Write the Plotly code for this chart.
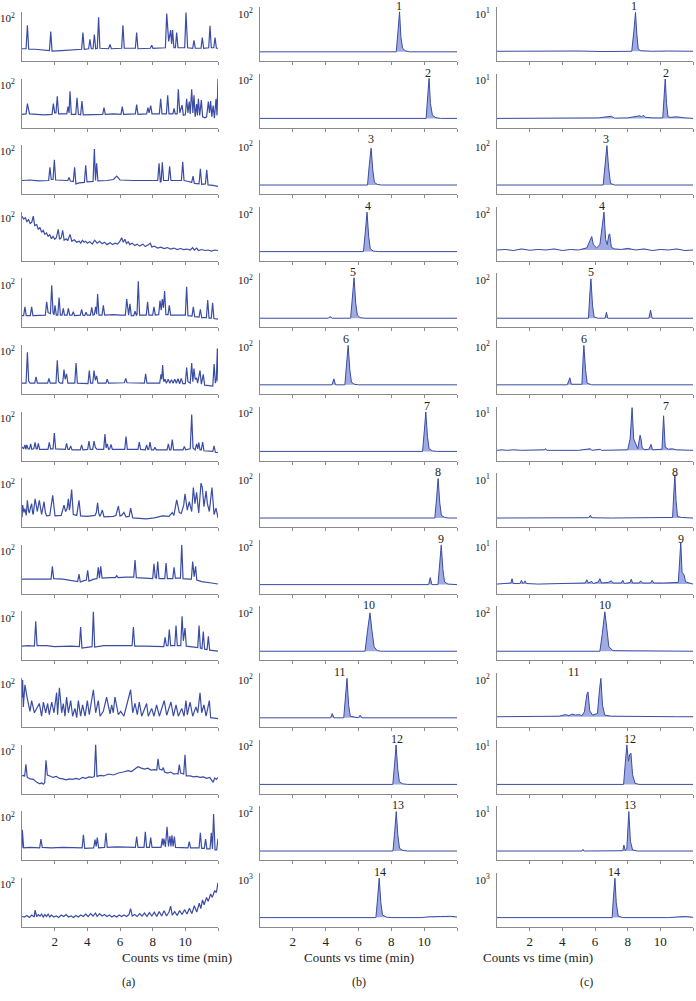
import plotly.graph_objects as go
from plotly.subplots import make_subplots

# chromatogram points (time in min, signal in % of panel height)
# column (a)
a01 = [(0,25),(0.25,25),(0.33,73),(0.41,24),(0.8,24),(1.2,22),(1.68,21),(1.76,60),(1.84,20),(2.4,21),(3.0,22),(3.65,24),(3.73,58),(3.81,24),(4.08,25),(4.16,44),(4.24,25),(4.35,25),(4.43,54),(4.51,25),(4.61,26),(4.69,89),(4.77,26),(5.3,25),(5.39,34),(5.47,25),(6.1,26),(6.18,73),(6.26,26),(6.94,26),(7.02,58),(7.1,25),(7.86,26),(7.94,32),(8.02,26),(8.5,26),(8.78,27),(8.86,97),(8.98,40),(9.1,63),(9.16,35),(9.22,63),(9.3,27),(9.39,27),(9.47,58),(9.55,27),(9.96,27),(10.04,99),(10.14,27),(10.45,26),(10.53,42),(10.61,26),(10.96,26),(11.04,48),(11.12,26),(11.43,27),(11.51,72),(11.59,27),(11.74,27),(11.82,48),(11.9,26),(12.0,26)]
a02 = [(0,27),(0.25,28),(0.33,49),(0.4,35),(0.46,28),(0.9,27),(1.4,26),(1.84,27),(1.92,49),(2.0,30),(2.08,30),(2.16,64),(2.24,28),(2.74,28),(2.82,43),(2.88,30),(2.94,74),(3.02,27),(3.29,27),(3.37,61),(3.45,27),(3.59,26),(3.67,54),(3.75,26),(4.3,27),(4.94,27),(5.02,41),(5.1,27),(5.6,28),(6.06,27),(6.14,43),(6.22,27),(6.94,28),(7.02,47),(7.1,27),(7.63,28),(7.71,41),(7.78,30),(7.88,45),(7.96,28),(8.41,28),(8.49,59),(8.57,28),(8.84,28),(8.92,66),(9.0,28),(9.24,28),(9.31,39),(9.38,28),(9.5,28),(9.57,78),(9.66,30),(9.8,46),(9.88,25),(10.0,26),(10.08,59),(10.16,30),(10.24,53),(10.3,28),(10.39,78),(10.46,30),(10.53,66),(10.6,22),(10.69,48),(10.74,25),(10.8,59),(10.88,25),(10.98,56),(11.06,22),(11.2,20),(11.3,22),(11.41,53),(11.48,30),(11.55,54),(11.62,22),(11.7,45),(11.78,19),(11.88,59),(11.94,25),(12.0,100)]
a03 = [(0,28),(0.5,29),(1.0,27),(1.63,28),(1.71,55),(1.79,30),(1.9,30),(1.98,70),(2.06,29),(2.8,28),(2.88,34),(2.96,27),(3.14,26),(3.22,55),(3.3,21),(3.5,23),(3.82,24),(3.9,59),(3.98,25),(4.35,26),(4.43,92),(4.5,28),(4.57,63),(4.65,27),(5.2,28),(5.6,30),(5.8,37),(6.0,29),(6.8,28),(7.5,28),(8.0,27),(8.31,28),(8.39,63),(8.47,25),(8.52,26),(8.59,65),(8.67,28),(8.96,28),(9.04,57),(9.12,28),(9.5,28),(9.76,28),(9.84,66),(9.92,28),(10.2,26),(10.39,24),(10.47,37),(10.55,22),(10.84,21),(10.92,52),(11.0,20),(11.23,21),(11.31,50),(11.39,19),(11.7,18),(12.0,16)]
a04 = [(0,91),(0.1,85),(0.2,88),(0.3,80),(0.4,84),(0.5,76),(0.6,79),(0.69,91),(0.78,72),(0.9,74),(1.0,64),(1.1,68),(1.2,58),(1.3,62),(1.4,54),(1.5,57),(1.6,50),(1.7,53),(1.8,45),(1.9,50),(2.0,44),(2.1,47),(2.22,64),(2.3,44),(2.4,47),(2.49,62),(2.58,42),(2.7,45),(2.8,41),(2.94,54),(3.05,40),(3.2,43),(3.35,38),(3.5,40),(3.6,36),(3.7,42),(3.8,38),(3.9,40),(4.0,36),(4.15,39),(4.3,34),(4.45,42),(4.6,36),(4.75,40),(4.9,35),(5.05,38),(5.2,33),(5.4,37),(5.55,33),(5.7,36),(5.85,34),(6.0,40),(6.1,47),(6.2,38),(6.3,44),(6.4,35),(6.5,39),(6.6,33),(6.75,36),(6.9,31),(7.05,34),(7.2,30),(7.4,34),(7.55,29),(7.7,32),(7.85,36),(7.95,28),(8.1,30),(8.3,26),(8.5,28),(8.7,25),(8.9,27),(9.1,24),(9.3,26),(9.5,23),(9.7,25),(9.9,23),(10.1,24),(10.3,22),(10.45,27),(10.55,22),(10.7,26),(10.8,21),(11.0,23),(11.2,21),(11.4,22),(11.6,20),(11.8,22),(12.0,21)]
a05 = [(0,24),(0.1,24),(0.18,42),(0.26,24),(0.51,24),(0.59,42),(0.67,24),(1.0,24),(1.43,25),(1.51,52),(1.6,30),(1.74,28),(1.82,86),(1.9,30),(1.96,26),(2.02,45),(2.1,25),(2.19,25),(2.27,61),(2.35,25),(2.45,25),(2.53,39),(2.6,25),(2.76,25),(2.84,39),(2.92,25),(3.06,25),(3.14,32),(3.22,24),(3.57,25),(3.65,37),(3.73,25),(3.84,24),(3.92,31),(4.0,25),(4.19,25),(4.27,41),(4.35,25),(4.43,26),(4.51,42),(4.57,27),(4.63,68),(4.71,25),(4.9,25),(4.98,45),(5.06,25),(5.6,26),(6.0,25),(6.33,25),(6.41,58),(6.49,25),(6.53,25),(6.61,48),(6.69,24),(6.84,24),(6.92,33),(7.0,25),(7.04,26),(7.12,94),(7.2,25),(7.61,25),(7.69,52),(7.77,25),(8.0,25),(8.08,42),(8.16,25),(8.37,26),(8.45,55),(8.52,35),(8.59,58),(8.66,40),(8.73,74),(8.81,26),(8.94,26),(9.02,45),(9.1,25),(9.5,25),(10.0,25),(10.08,83),(10.16,24),(10.41,23),(10.49,42),(10.57,22),(10.84,21),(10.92,37),(11.0,20),(11.29,20),(11.37,56),(11.45,19),(11.59,19),(11.67,50),(11.75,18),(12.0,17)]
a06 = [(0,22),(0.25,22),(0.33,85),(0.41,26),(0.5,22),(0.78,22),(0.86,35),(0.94,22),(1.57,22),(1.65,32),(1.73,22),(2.08,22),(2.16,69),(2.24,25),(2.35,22),(2.49,22),(2.57,50),(2.64,30),(2.73,41),(2.81,22),(3.23,22),(3.31,63),(3.39,22),(4.04,21),(4.12,48),(4.2,22),(4.33,22),(4.41,48),(4.49,28),(4.57,37),(4.65,22),(5.14,22),(5.22,30),(5.3,22),(6.27,23),(6.35,32),(6.43,23),(7.49,22),(7.57,41),(7.65,22),(8.43,22),(8.51,40),(8.56,30),(8.61,59),(8.68,25),(8.76,30),(8.84,22),(8.95,30),(9.05,22),(9.15,29),(9.25,22),(9.35,30),(9.45,22),(9.55,31),(9.65,21),(9.75,32),(9.85,21),(10.0,21),(10.08,54),(10.16,25),(10.3,22),(10.39,63),(10.46,25),(10.53,52),(10.6,30),(10.69,33),(10.75,22),(10.9,48),(10.98,20),(11.1,40),(11.18,18),(11.5,17),(11.68,16),(11.76,61),(11.84,22),(11.9,30),(11.96,93),(12.0,26)]
a07 = [(0,28),(0.1,24),(0.18,32),(0.24,23),(0.29,32),(0.38,24),(0.46,24),(0.53,34),(0.6,23),(0.72,24),(0.8,37),(0.87,24),(0.93,24),(1.0,35),(1.08,23),(1.59,23),(1.67,37),(1.75,24),(1.9,24),(1.98,56),(2.06,24),(2.65,23),(2.73,35),(2.81,23),(2.9,23),(2.98,30),(3.06,22),(3.57,22),(3.65,32),(3.73,22),(4.02,23),(4.1,40),(4.18,23),(4.33,23),(4.41,40),(4.49,27),(4.6,23),(5.0,23),(5.08,54),(5.15,26),(5.22,34),(5.3,23),(5.37,24),(5.45,33),(5.53,23),(6.29,23),(6.37,49),(6.45,23),(7.1,23),(7.18,38),(7.26,23),(7.55,22),(7.63,32),(7.7,23),(7.76,23),(7.84,38),(7.92,22),(8.06,22),(8.14,27),(8.22,22),(8.88,22),(8.96,34),(9.04,22),(9.12,22),(9.2,43),(9.28,22),(9.86,22),(9.94,29),(10.02,22),(10.3,24),(10.39,94),(10.47,26),(10.6,22),(10.69,34),(10.76,24),(10.82,37),(10.9,22),(10.98,22),(11.06,38),(11.14,20),(11.68,19),(11.76,30),(11.84,17),(12.0,16)]
a08 = [(0,20),(0.04,45),(0.12,30),(0.18,38),(0.26,24),(0.33,55),(0.4,34),(0.45,29),(0.52,40),(0.59,48),(0.65,30),(0.69,26),(0.8,58),(0.88,38),(0.94,32),(1.06,55),(1.14,34),(1.2,26),(1.35,52),(1.43,30),(1.51,23),(1.7,24),(1.88,65),(2.02,23),(2.4,24),(2.57,45),(2.67,32),(2.76,38),(2.84,58),(2.9,35),(2.94,42),(3.04,77),(3.14,26),(3.35,24),(3.49,55),(3.59,23),(4.0,22),(4.47,24),(4.55,30),(4.63,50),(4.7,28),(4.78,22),(4.92,35),(5.02,21),(5.59,22),(5.75,24),(5.9,43),(6.0,23),(6.1,24),(6.24,30),(6.37,21),(6.56,22),(6.65,39),(6.78,19),(7.6,17),(8.1,19),(8.6,23),(9.0,22),(9.2,30),(9.3,24),(9.47,56),(9.63,30),(9.75,28),(9.9,45),(9.98,68),(10.12,35),(10.24,52),(10.39,32),(10.49,81),(10.59,48),(10.69,71),(10.82,29),(10.96,90),(11.04,81),(11.14,42),(11.27,74),(11.35,48),(11.47,32),(11.63,81),(11.76,26),(11.88,39),(12.0,19)]
a09 = [(0,30),(0.5,30),(1.0,29),(1.5,30),(1.78,30),(1.86,56),(1.94,31),(2.5,30),(3.0,28),(3.41,25),(3.49,40),(3.57,24),(3.8,27),(3.94,28),(4.02,48),(4.1,26),(4.4,30),(4.59,31),(4.67,54),(4.74,32),(4.82,56),(4.9,32),(5.4,33),(5.72,33),(5.8,37),(5.88,33),(6.4,34),(6.84,34),(6.92,69),(7.0,33),(7.5,32),(8.0,31),(8.08,61),(8.16,33),(8.23,32),(8.31,66),(8.39,31),(8.74,31),(8.82,63),(8.9,31),(9.23,31),(9.31,54),(9.39,32),(9.7,32),(9.78,100),(9.86,31),(10.2,30),(10.37,30),(10.45,66),(10.54,35),(10.63,56),(10.7,28),(11.0,25),(11.3,24),(11.6,22),(12.0,20)]
a10 = [(0,29),(0.4,30),(0.76,29),(0.84,80),(0.92,30),(1.5,30),(2.0,28),(2.6,29),(3.0,29),(3.51,28),(3.59,68),(3.67,25),(4.0,27),(4.29,28),(4.37,100),(4.45,27),(5.0,30),(5.5,30),(6.0,29),(6.74,30),(6.82,68),(6.9,29),(7.5,29),(8.0,28),(8.68,28),(8.76,47),(8.84,30),(8.94,30),(9.02,63),(9.1,30),(9.35,30),(9.43,71),(9.51,30),(9.72,30),(9.8,90),(9.88,40),(9.98,66),(10.06,29),(10.5,27),(10.76,26),(10.84,71),(10.92,25),(11.02,24),(11.1,59),(11.18,23),(11.33,22),(11.41,49),(11.49,21),(12.0,19)]
a11 = [(0.0,60),(0.04,96),(0.08,41),(0.18,86),(0.33,57),(0.49,32),(0.59,54),(0.76,29),(1.06,48),(1.2,22),(1.31,51),(1.45,29),(1.57,48),(1.67,25),(1.82,51),(1.96,29),(2.12,70),(2.18,25),(2.29,80),(2.43,29),(2.53,48),(2.63,22),(2.73,61),(2.84,29),(2.98,54),(3.1,22),(3.24,38),(3.35,19),(3.45,54),(3.59,22),(3.71,45),(3.86,22),(4.0,54),(4.12,25),(4.37,76),(4.51,29),(4.67,54),(4.78,22),(4.98,32),(5.18,61),(5.39,27),(5.49,45),(5.59,29),(5.69,61),(5.9,25),(6.04,32),(6.24,22),(6.65,76),(6.78,29),(6.92,48),(7.06,25),(7.18,51),(7.33,22),(7.63,48),(7.73,22),(7.94,38),(8.08,22),(8.24,45),(8.41,22),(8.71,54),(8.86,24),(9.12,51),(9.27,22),(9.43,45),(9.57,22),(9.78,38),(9.92,22),(10.04,54),(10.12,25),(10.29,51),(10.45,22),(10.65,41),(10.76,29),(10.9,70),(11.0,29),(11.14,45),(11.27,22),(11.47,54),(11.55,19),(12.0,17)]
a12 = [(0,36),(0.1,37),(0.16,35),(0.24,60),(0.32,33),(0.5,30),(0.7,29),(0.9,23),(1.1,20),(1.2,22),(1.3,19),(1.39,22),(1.47,68),(1.55,38),(1.7,36),(1.9,33),(2.1,35),(2.3,31),(2.5,30),(2.7,28),(2.9,30),(3.1,29),(3.3,31),(3.5,29),(3.7,33),(3.9,31),(4.1,34),(4.3,33),(4.43,35),(4.51,100),(4.59,35),(4.8,37),(5.0,36),(5.3,40),(5.6,38),(5.9,42),(6.2,44),(6.5,47),(6.7,45),(6.9,51),(7.1,55),(7.3,52),(7.5,50),(7.7,52),(7.9,48),(8.1,49),(8.25,48),(8.33,71),(8.41,50),(8.57,48),(8.65,53),(8.73,44),(8.9,42),(9.1,44),(9.3,40),(9.5,41),(9.55,40),(9.63,59),(9.71,42),(9.9,40),(9.98,79),(10.06,36),(10.3,36),(10.5,34),(10.7,35),(10.9,33),(11.1,34),(11.3,31),(11.5,33),(11.7,23),(11.8,32),(11.9,29),(12.0,33)]
a13 = [(0,25),(0.02,62),(0.1,25),(0.5,26),(1.08,25),(1.16,43),(1.24,26),(1.8,25),(2.5,26),(3.0,25),(3.68,25),(3.76,52),(3.84,24),(4.39,25),(4.47,42),(4.54,28),(4.61,46),(4.69,25),(5.06,26),(5.14,56),(5.22,26),(5.8,27),(6.4,26),(6.94,26),(7.02,48),(7.1,26),(7.47,26),(7.55,58),(7.63,26),(7.8,26),(7.88,46),(7.96,26),(8.51,26),(8.59,44),(8.64,30),(8.69,44),(8.78,27),(8.88,68),(8.97,28),(9.06,49),(9.12,28),(9.18,51),(9.25,28),(9.33,48),(9.4,26),(10.0,26),(10.16,25),(10.24,38),(10.32,25),(10.84,25),(10.92,56),(11.0,24),(11.16,24),(11.24,43),(11.32,23),(11.51,23),(11.59,56),(11.66,23),(11.73,94),(11.82,21),(11.92,21),(12.0,44)]
a14 = [(0,21),(0.15,20),(0.3,23),(0.45,19),(0.6,24),(0.75,20),(0.8,34),(0.9,21),(1.0,25),(1.1,22),(1.2,26),(1.3,20),(1.4,25),(1.5,21),(1.6,26),(1.7,20),(1.8,24),(1.95,20),(2.1,22),(2.25,19),(2.4,24),(2.55,21),(2.7,25),(2.85,20),(3.0,22),(3.15,19),(3.3,23),(3.45,20),(3.6,24),(3.75,21),(3.9,26),(4.05,21),(4.2,27),(4.35,22),(4.5,28),(4.6,21),(4.75,27),(4.9,22),(5.05,25),(5.2,21),(5.35,24),(5.5,20),(5.65,23),(5.8,20),(5.95,24),(6.1,21),(6.25,24),(6.4,21),(6.55,25),(6.65,37),(6.75,22),(6.9,25),(7.05,21),(7.2,27),(7.35,22),(7.5,28),(7.65,21),(7.8,29),(7.95,22),(8.1,30),(8.25,21),(8.4,31),(8.55,22),(8.7,33),(8.85,22),(9.0,30),(9.1,42),(9.2,24),(9.35,31),(9.5,23),(9.65,33),(9.8,25),(9.95,35),(10.1,26),(10.25,38),(10.4,27),(10.55,43),(10.7,30),(10.85,48),(10.95,37),(11.05,55),(11.15,45),(11.3,60),(11.4,52),(11.55,67),(11.65,60),(11.8,74),(11.9,70),(12.0,90)]

# column (b)
b01 = [(0,17),(8.3,17),(8.42,60),(8.5,91),(8.58,45),(8.68,24),(8.85,19),(9.1,17),(12,17)]
b02 = [(0,17),(10.12,17),(10.22,60),(10.3,91),(10.38,45),(10.5,23),(10.7,18.5),(11,17),(12,17)]
b03 = [(0,17),(6.55,17),(6.66,55),(6.77,85),(6.87,45),(6.97,22),(7.15,18),(7.4,17),(12,17)]
b04 = [(0,17),(6.3,17),(6.42,55),(6.52,90),(6.62,45),(6.72,22),(6.9,18),(7.2,17),(12,17)]
b05 = [(0,17),(4.15,17),(4.27,20),(4.4,17),(5.52,17),(5.64,55),(5.73,92),(5.83,45),(5.93,23),(6.1,18),(6.4,17),(12,17)]
b06 = [(0,17),(4.38,17),(4.5,28),(4.6,17),(5.17,17),(5.28,55),(5.37,90),(5.47,45),(5.57,22),(5.75,18),(6.0,17),(12,17)]
b07 = [(0,17),(9.9,17),(10.01,55),(10.1,90),(10.2,45),(10.3,22),(10.5,18),(10.8,17),(12,17)]
b08 = [(0,17),(10.65,17),(10.76,55),(10.85,90),(10.95,45),(11.05,22),(11.25,18),(11.5,17),(12,17)]
b09 = [(0,17),(10.27,17),(10.37,30),(10.47,17),(10.84,17),(10.95,55),(11.04,90),(11.14,45),(11.24,22),(11.45,18),(12,17)]
b10 = [(0,17),(6.4,17),(6.55,55),(6.7,88),(6.82,55),(6.95,25),(7.15,18),(7.4,17),(12,17)]
b11 = [(0,17),(4.3,17),(4.4,25),(4.5,17),(5.1,17),(5.21,55),(5.3,90),(5.4,40),(5.5,20),(6.0,17),(6.1,22),(6.2,17),(12,17)]
b12 = [(0,17),(8.09,17),(8.2,55),(8.29,90),(8.39,45),(8.49,22),(8.7,18),(9.0,17),(12,17)]
b13 = [(0,17),(8.1,17),(8.21,55),(8.3,90),(8.4,45),(8.5,22),(8.7,18),(9.0,17),(12,17)]
b14 = [(0,17),(7.06,17),(7.17,55),(7.26,90),(7.36,45),(7.46,22),(7.7,18),(8.0,17),(9.8,17),(10.3,18.5),(11.0,19),(11.6,19.5),(12,18)]

# column (c)
c01 = [(0,18),(1.5,18.5),(2.5,17.5),(3.3,19),(3.6,18),(5,18.5),(6.5,17.5),(8.25,18),(8.38,55),(8.48,90),(8.56,50),(8.65,22),(8.8,19),(9.5,18),(10.5,18.5),(11.5,17.5),(12,18)]
c02 = [(0,17),(2,17.5),(4,18),(5,17),(6.2,18),(7.0,21),(7.2,17.5),(8.0,18),(8.75,22),(8.85,20),(8.95,23),(9.1,19),(9.5,18),(10.15,18),(10.22,60),(10.3,90),(10.38,45),(10.47,20),(10.6,19),(11,20),(11.5,18),(12,17)]
c03 = [(0,17),(6.5,17),(6.62,55),(6.73,90),(6.83,50),(6.95,20),(7.2,17),(12,17)]
c04 = [(0,20),(0.5,21),(1,19),(1.5,22),(2,19.5),(2.5,21),(3,20),(3.5,22),(4,19),(4.5,21),(5.0,20),(5.5,24),(5.7,38),(5.8,45),(5.9,30),(6.1,24),(6.3,30),(6.45,70),(6.55,90),(6.65,40),(6.75,30),(6.85,48),(6.9,50),(7.0,25),(7.2,22),(7.6,21),(8,23),(8.5,20),(9,22),(9.5,19),(10,21),(10.5,20),(11,22),(11.5,19),(12,20)]
c05 = [(0,17),(4,17),(5.6,17),(5.68,60),(5.75,90),(5.85,40),(5.95,19),(6.2,17),(6.62,17),(6.7,28),(6.78,17),(9.3,17),(9.4,32),(9.5,17),(12,17)]
c06 = [(0,17),(4.3,17),(4.4,25),(4.46,30),(4.55,18),(5.2,18),(5.27,65),(5.32,90),(5.42,45),(5.52,20),(5.8,17),(12,17)]
c07 = [(0,19),(0.3,20),(0.6,19),(1,20),(1.5,19),(2,19.5),(2.9,20),(2.98,22),(3.05,19),(5,19),(5.65,21),(5.72,22),(5.8,19),(6.25,21),(6.32,21),(6.4,19),(8.0,20),(8.15,40),(8.27,98),(8.37,40),(8.5,30),(8.62,22),(8.76,47),(8.82,40),(8.88,25),(9.0,20),(9.3,21),(9.43,30),(9.52,20),(9.8,20),(10.1,21),(10.2,83),(10.3,25),(10.5,21),(10.7,22),(11,20),(11.5,19),(12,19)]
c08 = [(0,17),(2,17.5),(4,17),(5.6,17.5),(5.72,22),(5.8,17.5),(7,17),(9,17.5),(10.75,18),(10.82,60),(10.89,97),(10.96,50),(11.05,20),(11.3,18),(12,17)]
c09 = [(0,18),(0.5,18.5),(0.85,20),(0.92,28),(1.0,19),(1.4,19),(1.5,25),(1.58,19),(1.65,20),(1.72,24),(1.8,19),(2.5,18),(3.5,19),(4.5,19),(5.4,20),(5.5,26),(5.6,20),(5.8,23),(5.9,19),(6.2,22),(6.3,28),(6.4,20),(6.8,21),(7.0,24),(7.1,20),(7.6,20),(7.7,25),(7.8,19),(8.15,21),(8.22,27),(8.3,20),(8.7,20),(8.8,24),(8.9,20),(9.4,20),(9.5,25),(9.6,20),(10.2,20),(10.6,21),(11.1,21),(11.18,60),(11.25,95),(11.33,40),(11.45,35),(11.55,22),(11.8,19),(12,18)]
c10 = [(0,17),(6.3,17),(6.45,50),(6.6,90),(6.72,60),(6.85,25),(7.1,18),(12,17)]
c11 = [(0,19),(1,19.5),(2,19),(3,19.5),(3.8,20),(4.2,23),(4.4,21),(4.6,24),(4.8,22),(5.0,23),(5.2,21),(5.35,28),(5.5,60),(5.57,65),(5.68,30),(5.85,22),(6.15,25),(6.28,70),(6.36,90),(6.46,40),(6.6,22),(7,20),(8,19.5),(9,19),(10,19.5),(11,19),(12,19)]
c12 = [(0,17),(7.75,17),(7.85,55),(7.95,90),(8.05,60),(8.12,72),(8.2,75),(8.3,35),(8.45,19),(8.7,17),(12,17)]
c13 = [(0,17),(5.2,17),(5.26,20),(5.32,17),(7.7,17.5),(7.77,28),(7.85,18),(7.95,22),(8.07,90),(8.17,35),(8.3,19),(8.6,17),(12,17)]
c14 = [(0,17),(7.05,17),(7.13,55),(7.22,90),(7.3,45),(7.42,20),(7.7,17),(10.5,17),(11.2,18.5),(11.6,19),(12,17.5)]

col_a = [a01, a02, a03, a04, a05, a06, a07, a08, a09, a10, a11, a12, a13, a14]
col_b = [b01, b02, b03, b04, b05, b06, b07, b08, b09, b10, b11, b12, b13, b14]
col_c = [c01, c02, c03, c04, c05, c06, c07, c08, c09, c10, c11, c12, c13, c14]

exp_a = [2] * 14
exp_b = [2, 2, 2, 2, 2, 2, 2, 2, 2, 2, 2, 2, 2, 3]
exp_c = [1, 1, 2, 2, 2, 2, 1, 1, 1, 2, 2, 1, 1, 3]

peak_names = [str(i) for i in range(1, 15)]
label_t_b = [8.48, 10.24, 6.77, 6.59, 5.67, 5.24, 10.18, 10.85, 11.04, 6.65, 4.88, 8.35, 8.41, 7.32]
label_t_c = [8.38, 10.34, 6.67, 6.42, 5.75, 5.32, 10.34, 10.89, 11.25, 6.6, 4.71, 8.13, 8.13, 7.16]

x_ticks = [2, 4, 6, 8, 10, 12]
x_tick_text = ['2', '4', '6', '8', '10', '']
panel_names = ['(a)', '(b)', '(c)']
x_title = 'Counts vs time (min)'

W, H = 696, 1001
LINE = '#3a4ca3'
FILL = 'rgba(95,115,205,0.6)'
AXIS = '#8a8a8a'
FONT = 'Liberation Serif'

col_px = [(22, 218), (260, 457), (497, 693)]
col_top = [12, 7, 7]
PITCH = 66.6
BOTTOM0 = 61

fig = make_subplots(rows=14, cols=3)

for c, (col, exps) in enumerate(zip([col_a, col_b, col_c], [exp_a, exp_b, exp_c])):
    for r in range(14):
        pts = col[r]
        fig.add_trace(go.Scatter(
            x=[p[0] for p in pts],
            y=[p[1] for p in pts],
            mode='lines',
            line=dict(color=LINE, width=1.2 if c == 0 else 1),
            fill='toself' if c > 0 else None,
            fillcolor=FILL,
            hoverinfo='skip',
            showlegend=False
        ), row=r + 1, col=c + 1)

        top = col_top[c] + PITCH * r
        bot = BOTTOM0 + PITCH * r
        fig.update_xaxes(
            domain=[col_px[c][0] / W, col_px[c][1] / W],
            range=[0, 12], showline=True, linecolor=AXIS, linewidth=1,
            showgrid=False, zeroline=False, automargin=False,
            ticks='outside', ticklen=3, tickcolor=AXIS,
            tickvals=x_ticks, ticktext=x_tick_text,
            showticklabels=(r == 13),
            tickfont=dict(size=13, color='#222'),
            row=r + 1, col=c + 1
        )
        fig.update_yaxes(
            domain=[1 - bot / H, 1 - top / H],
            range=[0, 100], showline=True, linecolor=AXIS, linewidth=1,
            showgrid=False, zeroline=False, automargin=False,
            ticks='outside', ticklen=4, tickcolor='rgba(0,0,0,0)',
            tickvals=[87], ticktext=['10<sup>%d</sup>' % exps[r]],
            tickfont=dict(size=11, color='#222'),
            row=r + 1, col=c + 1
        )

# peak numbers above the peaks in columns (b) and (c)
annotations = []
for c, label_t in [(1, label_t_b), (2, label_t_c)]:
    for r in range(14):
        n = r * 3 + c + 1
        annotations.append(dict(
            x=label_t[r], xref='x%d' % n,
            y=1, yref='y%d domain' % n,
            yanchor='middle', yshift=1,
            text=peak_names[r], showarrow=False,
            font=dict(size=12, color='#222')
        ))

for c in range(3):
    xc = (col_px[c][0] + col_px[c][1]) / 2 / W
    annotations.append(dict(x=xc, xref='paper', y=1 - 957 / H, yref='paper',
                            yanchor='middle', text=x_title, showarrow=False,
                            font=dict(size=13, color='#222')))
    annotations.append(dict(x=xc, xref='paper', y=1 - 982 / H, yref='paper',
                            yanchor='middle', text=panel_names[c], showarrow=False,
                            font=dict(size=12, color='#222')))

fig.update_layout(
    width=W, height=H,
    margin=dict(l=0, r=0, t=0, b=0),
    paper_bgcolor='white', plot_bgcolor='white',
    font=dict(family=FONT, size=12, color='#222'),
    annotations=annotations,
    showlegend=False
)

# drop the page's default body margin so the figure sits at the window corner
fig.write_html("out.html", config={'displayModeBar': False},
               post_script="document.body.style.margin='0';")
